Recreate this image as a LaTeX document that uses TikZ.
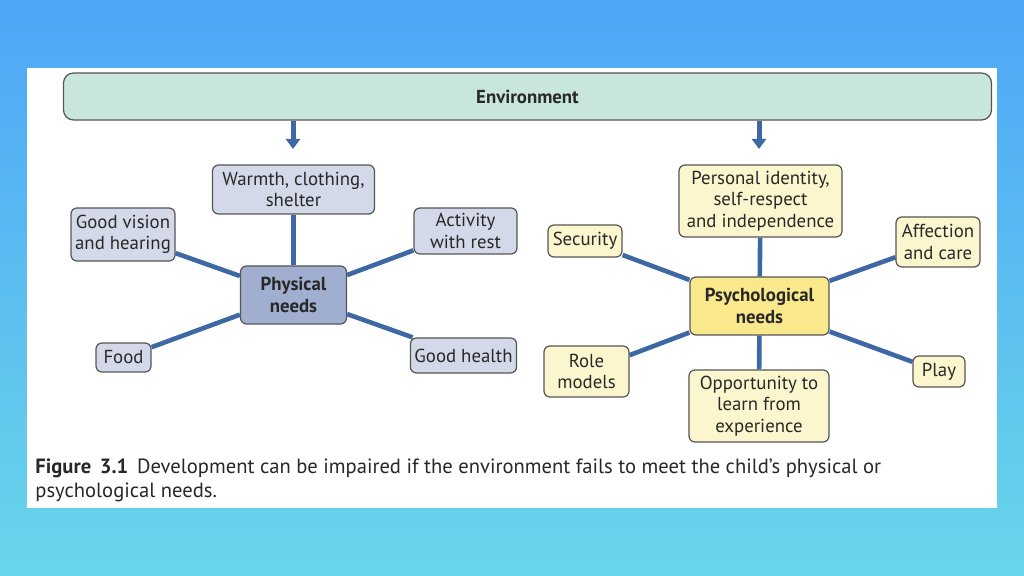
\documentclass[tikz,border=0pt]{standalone}
\usepackage{fontspec}
\setmainfont{PT Sans}
\usetikzlibrary{arrows.meta}
\definecolor{bgtop}{RGB}{78,166,247}
\definecolor{bgbot}{RGB}{104,214,234}
\definecolor{envfill}{RGB}{200,230,220}
\definecolor{physlight}{RGB}{211,217,232}
\definecolor{physdark}{RGB}{160,174,207}
\definecolor{psylight}{RGB}{252,246,206}
\definecolor{psydark}{RGB}{250,232,140}
\definecolor{edge}{RGB}{85,85,85}
\definecolor{conncol}{RGB}{62,104,164}
\definecolor{txt}{RGB}{40,40,40}
\tikzset{
  box/.style={draw=edge, line width=0.6pt, rounded corners=3pt, align=center,
    font=\fontsize{9.4}{10.8}\selectfont, text=txt, inner xsep=2pt, inner ysep=2pt},
  pbox/.style={box, fill=physlight},
  pcenter/.style={box, fill=physdark, font=\fontsize{9.4}{10.8}\selectfont\bfseries},
  ybox/.style={box, fill=psylight},
  ycenter/.style={box, fill=psydark, font=\fontsize{9.4}{10.8}\selectfont\bfseries},
  conn/.style={draw=conncol, line width=2.3pt},
  downarrow/.style={draw=conncol, line width=2.5pt, -{Triangle[width=7pt,length=5pt]}}
}
\begin{document}
\begin{tikzpicture}[x=0.5pt,y=-0.5pt]
\useasboundingbox (0,0) rectangle (1024,576);
\shade[top color=bgtop,bottom color=bgbot] (0,0) rectangle (1024,576);
\fill[white] (27,68) rectangle (997,508);

\node[draw=edge, line width=0.6pt, rounded corners=5pt, fill=envfill, minimum width=464pt, minimum height=23.5pt,
  font=\fontsize{9.4}{10.8}\selectfont\bfseries, text=txt] (env) at (527.5,96.5) {Environment};

\coordinate (a1) at (293,149);
\coordinate (a2) at (759,149);
\draw[downarrow] (env.south -| a1) -- (a1);
\draw[downarrow] (env.south -| a2) -- (a2);

% Physical
\node[pcenter, minimum width=53pt, minimum height=29pt] (phys) at (293.5,295) {Physical\\needs};
\node[pbox, minimum width=81pt, minimum height=24.5pt] (warm) at (293.5,189.5) {Warmth, clothing,\\shelter};
\node[pbox, minimum width=52pt, minimum height=26.5pt] (vision) at (123,234.5) {Good vision\\and hearing};
\node[pbox, minimum width=51.5pt, minimum height=23pt] (activity) at (465.5,231) {Activity\\with rest};
\node[pbox, minimum width=27.5pt, minimum height=14.5pt] (food) at (123.5,357.5) {Food};
\node[pbox, minimum width=52.5pt, minimum height=17.5pt] (health) at (463.5,355.5) {Good health};

\draw[conn] (warm) -- (phys);
\draw[conn] (vision) -- (phys);
\draw[conn] (activity) -- (phys);
\draw[conn] (food) -- (phys);
\draw[conn] (health) -- (phys);

% Psychological
\node[ycenter, minimum width=69.5pt, minimum height=29pt] (psy) at (759.5,306) {Psychological\\needs};
\node[ybox, minimum width=81.5pt, minimum height=36pt] (ident) at (760.5,201) {Personal identity,\\self-respect\\and independence};
\node[ybox, minimum width=37pt, minimum height=16pt] (sec) at (585,241) {Security};
\node[ybox, minimum width=42pt, minimum height=25pt] (aff) at (938,242) {Affection\\and care};
\node[ybox, minimum width=42.5pt, minimum height=25.5pt] (role) at (586.5,371.5) {Role\\models};
\node[ybox, minimum width=70pt, minimum height=36pt] (opp) at (759,406) {Opportunity to\\learn from\\experience};
\node[ybox, minimum width=26pt, minimum height=15.5pt] (play) at (939,371.5) {Play};

\draw[conn] (ident) -- (psy);
\draw[conn] (sec) -- (psy);
\draw[conn] (aff) -- (psy);
\draw[conn] (role) -- (psy);
\draw[conn] (opp) -- (psy);
\draw[conn] (play) -- (psy);

\node[anchor=north west, align=left, inner sep=0pt, text=txt,
  font=\fontsize{10.3}{12}\selectfont] (cap) at (35,458)
  {\textbf{Figure\, 3.1}\, Development can be impaired if the environment fails to meet the child’s physical or\\psychological needs.};
\end{tikzpicture}
\end{document}
